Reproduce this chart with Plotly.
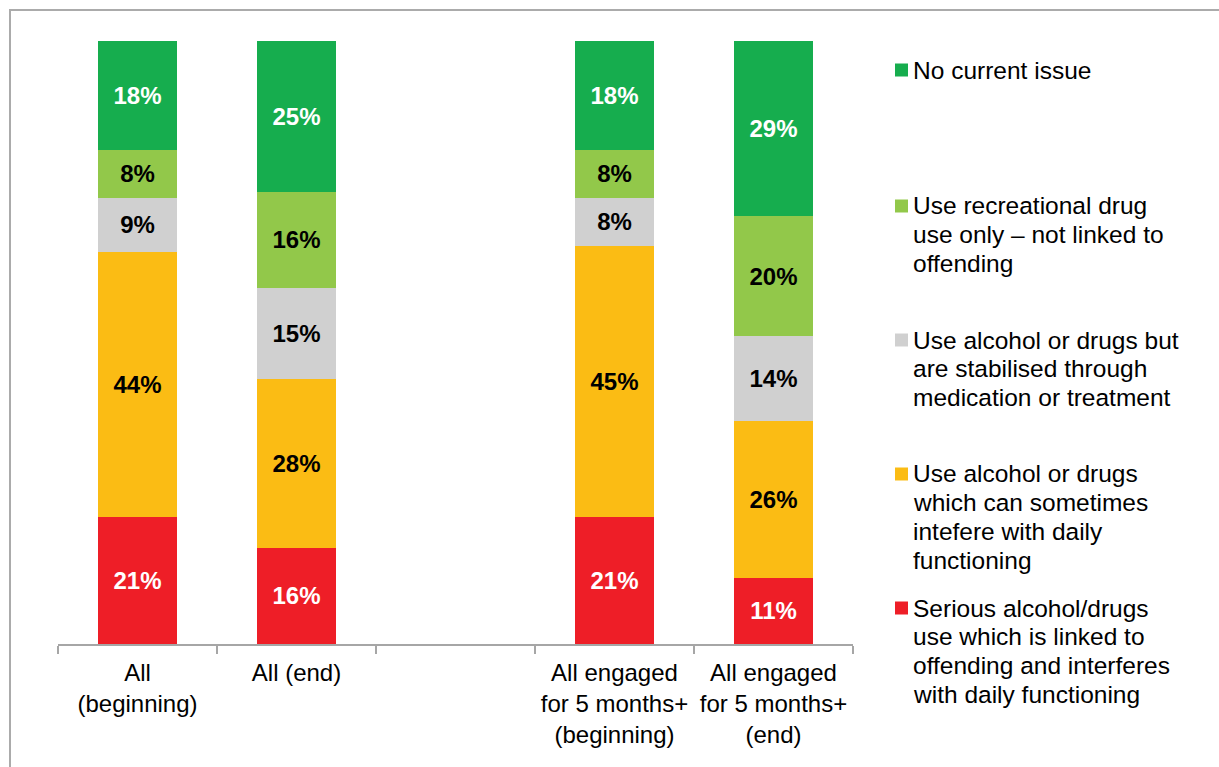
import plotly.graph_objects as go

# Categories (a blank slot separates the two groups)
categories = [
    "All<br>(beginning)",
    "All (end)",
    " ",
    "All engaged<br>for 5 months+<br>(beginning)",
    "All engaged<br>for 5 months+<br>(end)",
]

# Percentages per category, bottom to top (None = empty slot)
serious = [21, 16, None, 21, 11]
sometimes = [44, 28, None, 45, 26]
stabilised = [9, 15, None, 8, 14]
recreational = [8, 16, None, 8, 20]
no_issue = [18, 25, None, 18, 29]

series_names = [
    "Serious alcohol/drugs use which is linked to offending and interferes with daily functioning",
    "Use alcohol or drugs which can sometimes intefere with daily functioning",
    "Use alcohol or drugs but are stabilised through medication or treatment",
    "Use recreational drug use only – not linked to offending",
    "No current issue",
]

# Legend text, wrapped the way it is laid out beside the chart (top to bottom)
legend_lines = [
    ["No current issue"],
    ["Use recreational drug", "use only – not linked to", "offending"],
    ["Use alcohol or drugs but", "are stabilised through", "medication or treatment"],
    ["Use alcohol or drugs", "which can sometimes", "intefere with daily", "functioning"],
    ["Serious alcohol/drugs", "use which is linked to", "offending and interferes", "with daily functioning"],
]

series_values = [serious, sometimes, stabilised, recreational, no_issue]
colors = ["#EE1E27", "#FBBC14", "#D0D0D0", "#92C84A", "#16AD4E"]
text_colors = ["white", "black", "black", "black", "white"]

FONT = "Liberation Sans, Arial, sans-serif"

fig = go.Figure()
for name, vals, col, tcol in zip(series_names, series_values, colors, text_colors):
    fig.add_trace(go.Bar(
        x=categories,
        y=vals,
        name=name,
        marker=dict(color=col, line=dict(width=0)),
        text=[f"{v}%" if v is not None else "" for v in vals],
        textposition="inside",
        insidetextanchor="middle",
        constraintext="none",
        textfont=dict(family=FONT, size=24, color=tcol, weight="bold"),
        showlegend=False,
        hoverinfo="skip",
    ))

W, H = 1219, 767
L, R, T, B = 58, 366, 41, 123
pw, ph = W - L - R, H - T - B

def px_x(x):
    return (x - L) / pw

def px_y(y):
    return 1 - (y - T) / ph

# Outer frame around the whole chart
fig.add_shape(
    type="rect", xref="paper", yref="paper",
    x0=px_x(10), x1=px_x(1240), y0=px_y(790), y1=px_y(10),
    line=dict(color="#ABABAB", width=2), fillcolor="rgba(0,0,0,0)",
    layer="below",
)

# Legend: coloured squares with wrapped labels
first_line_y = [70, 206, 340, 474, 608]
line_step = 28.7
for lines, col, y0 in zip(legend_lines, colors[::-1], first_line_y):
    fig.add_shape(
        type="rect", xref="paper", yref="paper",
        x0=px_x(895), x1=px_x(908), y0=px_y(y0 + 6.5), y1=px_y(y0 - 6.5),
        line=dict(width=0), fillcolor=col,
    )
    for i, line in enumerate(lines):
        fig.add_annotation(
            xref="paper", yref="paper",
            x=px_x(911), y=px_y(y0 + i * line_step),
            text=line, showarrow=False,
            xanchor="left", yanchor="middle",
            font=dict(family=FONT, size=24.5, color="black"),
        )

fig.update_layout(
    barmode="stack",
    bargap=0.5,
    width=W, height=H,
    margin=dict(l=L, r=R, t=T, b=B, pad=0),
    paper_bgcolor="white",
    plot_bgcolor="white",
    font=dict(family=FONT, size=24, color="black"),
    xaxis=dict(
        type="category",
        categoryorder="array",
        categoryarray=categories,
        range=[-0.5, 4.5],
        tickson="boundaries",
        ticks="outside",
        ticklen=8,
        tickwidth=1.5,
        tickcolor="#A6A6A6",
        ticklabelstandoff=6,
        showline=True,
        linecolor="#A6A6A6",
        linewidth=1.5,
        showgrid=False,
        tickfont=dict(family=FONT, size=24, color="black"),
        fixedrange=True,
    ),
    yaxis=dict(
        range=[0, 100],
        visible=False,
        showgrid=False,
        zeroline=False,
        fixedrange=True,
    ),
)

fig.write_html("out.html")
